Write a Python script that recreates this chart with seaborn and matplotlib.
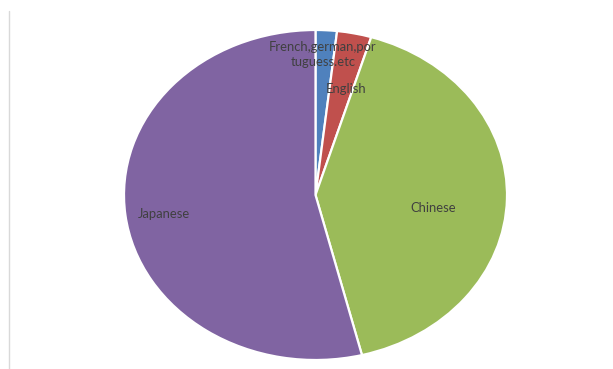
import numpy as np
import matplotlib
matplotlib.use("Agg")
import matplotlib.pyplot as plt
from matplotlib.lines import Line2D
import seaborn as sns

# Share of speakers by language
languages = ["French,german,por\ntuguess.etc", "English", "Chinese", "Japanese"]
shares = [1.8, 2.9, 41.4, 53.9]

sns.set_theme(style="white")
plt.rcParams["font.family"] = ["Lato", "DejaVu Sans"]

colors = ["#4F81BD", "#C0504D", "#9BBB59", "#8064A2"]

W, H = 613, 369
fig = plt.figure(figsize=(W / 100, H / 100), dpi=100)
fig.patch.set_facecolor("white")

# plot area (pixels): x 124..507, y 30..360
left, right, top, bottom = 124, 507, 30, 360
ax = fig.add_axes([left / W, (H - bottom) / H, (right - left) / W, (bottom - top) / H])

wedges, _ = ax.pie(
    shares,
    colors=colors,
    startangle=90,
    counterclock=False,
    radius=1.0,
    wedgeprops=dict(edgecolor="white", linewidth=1.6),
)
ax.set_aspect("auto")
ax.set_xlim(-1, 1)
ax.set_ylim(-1, 1)
ax.axis("off")

# label radius per slice, placed along each wedge's mid-angle
label_radius = [0.85, 0.66, 0.62, 0.80]
label_offset = [0.7, -2.2, -5.9, 1.4]  # degrees
for w, lab, r, off in zip(wedges, languages, label_radius, label_offset):
    mid = np.deg2rad((w.theta1 + w.theta2) / 2 + off)
    ax.text(r * np.cos(mid), r * np.sin(mid), lab, ha="center", va="center",
            fontsize=9.4, color="#404040", linespacing=1.3)

# thin frame line at left edge
fig.add_artist(Line2D([9 / W, 9 / W], [0, 1 - 11 / H], transform=fig.transFigure,
                      color="#d9d9d9", linewidth=1.0))

fig.savefig("out.png", dpi=100)
